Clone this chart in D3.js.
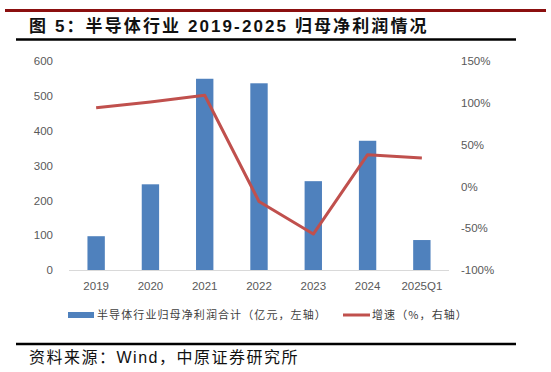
<!DOCTYPE html>
<html>
<head>
<meta charset="utf-8">
<script src="https://cdn.jsdelivr.net/npm/d3@7"></script>
<style>
  body { margin: 0; background: #fff; }
  svg { display: block; }
</style>
</head>
<body>
<svg id="chart"></svg>
<script>
const categories = ["2019", "2020", "2021", "2022", "2023", "2024", "2025Q1"]
const profit = [97, 246, 549, 536, 255, 371, 86]      // 亿元, left axis
const growth = [94, 101, 109, -18, -57, 38, 34]       // %, right axis
const leftTicks = [0, 100, 200, 300, 400, 500, 600]
const rightTicks = [-100, -50, 0, 50, 100, 150]

const dimensions = {
  width: 551,
  height: 372,
  plot: { left: 69, right: 449, top: 61, bottom: 270 },
}

const cjk = "'Noto Sans CJK SC', 'Liberation Sans', sans-serif"
const mixed = "'Liberation Sans', 'Noto Sans CJK SC', sans-serif"
const latin = "'Liberation Sans', Arial, sans-serif"

const svg = d3.select("#chart")
  .attr("width", dimensions.width)
  .attr("height", dimensions.height)

// header rules + title
svg.append("line")
  .attr("x1", 5).attr("x2", 546).attr("y1", 10.5).attr("y2", 10.5)
  .attr("stroke", "#8b0f0f").attr("stroke-width", 3)

svg.append("text")
  .attr("x", 29).attr("y", 32)
  .attr("font-family", mixed)
  .attr("font-weight", "bold")
  .attr("font-size", "17px")
  .attr("letter-spacing", "2.1px")
  .attr("fill", "#111")
  .text("图 5：半导体行业 2019-2025 归母净利润情况")

svg.append("line")
  .attr("x1", 16).attr("x2", 516).attr("y1", 39.5).attr("y2", 39.5)
  .attr("stroke", "#000").attr("stroke-width", 2.5)

// scales
const xScale = d3.scaleBand()
  .domain(categories)
  .range([dimensions.plot.left, dimensions.plot.right])
  .paddingInner(0.68)
  .paddingOuter(0.34)

const yLeft = d3.scaleLinear()
  .domain([0, 600])
  .range([dimensions.plot.bottom, dimensions.plot.top])

const yRight = d3.scaleLinear()
  .domain([-100, 150])
  .range([dimensions.plot.bottom, dimensions.plot.top])

// bars
svg.append("g")
  .selectAll("rect")
  .data(profit)
  .enter()
  .append("rect")
  .attr("x", (d, i) => xScale(categories[i]))
  .attr("y", d => yLeft(d))
  .attr("width", xScale.bandwidth())
  .attr("height", d => yLeft(0) - yLeft(d))
  .attr("fill", "#4f81bd")

// baseline
svg.append("line")
  .attr("x1", dimensions.plot.left).attr("x2", dimensions.plot.right)
  .attr("y1", yLeft(0) + 0.5).attr("y2", yLeft(0) + 0.5)
  .attr("stroke", "#d9d9d9").attr("stroke-width", 1)

// growth line
const line = d3.line()
  .x((d, i) => xScale(categories[i]) + xScale.bandwidth() / 2)
  .y(d => yRight(d))

svg.append("path")
  .datum(growth)
  .attr("d", line)
  .attr("fill", "none")
  .attr("stroke", "#c0504d")
  .attr("stroke-width", 3)
  .attr("stroke-linejoin", "round")

// axes
const leftAxis = d3.axisLeft(yLeft).tickValues(leftTicks).tickSize(0).tickPadding(0)
const leftGroup = svg.append("g")
  .attr("transform", "translate(53,0)")
  .call(leftAxis)
leftGroup.select(".domain").remove()

const rightAxis = d3.axisRight(yRight).tickValues(rightTicks).tickSize(0).tickPadding(0)
  .tickFormat(d => d + "%")
const rightGroup = svg.append("g")
  .attr("transform", "translate(461,0)")
  .call(rightAxis)
rightGroup.select(".domain").remove()

const bottomAxis = d3.axisBottom(xScale).tickSize(0).tickPadding(0)
const bottomGroup = svg.append("g")
  .attr("transform", `translate(0,${dimensions.plot.bottom + 12})`)
  .call(bottomAxis)
bottomGroup.select(".domain").remove()

svg.selectAll(".tick text")
  .attr("font-family", latin)
  .attr("font-size", "11.5px")
  .attr("fill", "#595959")

// legend
svg.append("rect")
  .attr("x", 68).attr("y", 312).attr("width", 26).attr("height", 6)
  .attr("fill", "#4f81bd")
svg.append("text")
  .attr("x", 97).attr("y", 319)
  .attr("font-family", cjk).attr("font-size", "11px")
  .attr("letter-spacing", "1.1px")
  .attr("fill", "#404040")
  .text("半导体行业归母净利润合计（亿元，左轴）")

svg.append("line")
  .attr("x1", 343).attr("x2", 370).attr("y1", 315).attr("y2", 315)
  .attr("stroke", "#c0504d").attr("stroke-width", 3)
svg.append("text")
  .attr("x", 372).attr("y", 319)
  .attr("font-family", cjk).attr("font-size", "11px")
  .attr("letter-spacing", "1.1px")
  .attr("fill", "#404040")
  .text("增速（%，右轴）")

// footer
svg.append("line")
  .attr("x1", 16).attr("x2", 516).attr("y1", 344).attr("y2", 344)
  .attr("stroke", "#000").attr("stroke-width", 2.5)

svg.append("text")
  .attr("x", 29).attr("y", 363)
  .attr("font-family", mixed)
  .attr("font-size", "16px")
  .attr("letter-spacing", "1.5px")
  .attr("fill", "#111")
  .text("资料来源：Wind，中原证券研究所")
</script>
</body>
</html>
